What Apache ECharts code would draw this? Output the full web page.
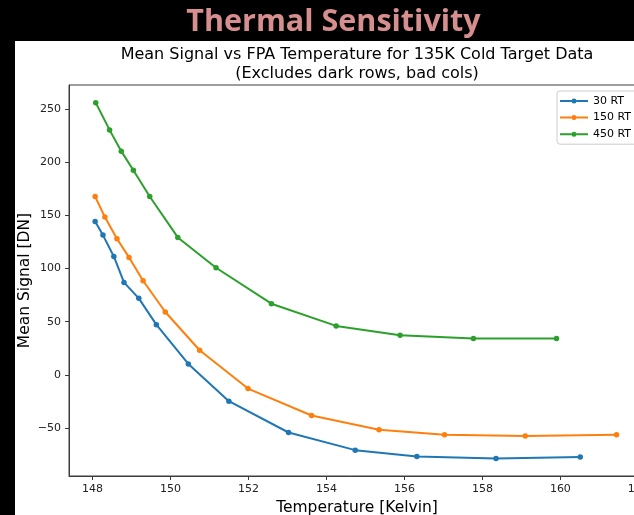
<!DOCTYPE html>
<html>
<head>
<meta charset="utf-8">
<script src="https://cdn.jsdelivr.net/npm/echarts@6/dist/echarts.min.js"></script>
<style>
  html, body { margin: 0; padding: 0; background: #000; }
  #chart { width: 634px; height: 515px; }
</style>
</head>
<body>
<div id="chart"></div>
<script>
// FPA temperature [K] and mean signal [DN] for each row-time setting
const temp30  = [148.07, 148.27, 148.55, 148.81, 149.19, 149.64, 150.46, 151.50, 153.03, 154.74, 156.32, 158.35, 160.51];
const sig30   = [144.2, 131.4, 111.3, 86.9, 71.9, 47.2, 10.3, -24.8, -54.2, -70.8, -76.7, -78.6, -77.3];

const temp150 = [148.07, 148.32, 148.63, 148.94, 149.30, 149.87, 150.75, 151.99, 153.62, 155.35, 157.03, 159.10, 161.44];
const sig150  = [167.7, 148.3, 127.9, 110.4, 88.5, 59.1, 23.1, -12.9, -38.2, -51.6, -56.3, -57.6, -56.3];

const temp450 = [148.085, 148.44, 148.74, 149.05, 149.47, 150.19, 151.17, 152.59, 154.25, 155.89, 157.77, 159.90];
const sig450  = [255.9, 230.3, 210.3, 192.4, 167.7, 129.2, 100.7, 66.9, 46.0, 37.2, 34.1, 34.1];

const seriesNames = ['30 RT', '150 RT', '450 RT'];
const xTicks = [148, 150, 152, 154, 156, 158, 160, 162];
const yTicks = [-50, 0, 50, 100, 150, 200, 250];

const pageTitle = 'Thermal Sensitivity';
const chartTitle = 'Mean Signal vs FPA Temperature for 135K Cold Target Data\n(Excludes dark rows, bad cols)';
const xName = 'Temperature [Kelvin]';
const yName = 'Mean Signal [DN]';

const FONT = '"DejaVu Sans", sans-serif';
const colors = ['#1f77b4', '#ff7f0e', '#2ca02c'];

// legend glyph: short line with a dot in the middle (28 x 5 box)
const legendIcon = 'path://M0,1.5L11.5,1.5L11.5,3.5L0,3.5Z' +
  'M16.5,1.5L28,1.5L28,3.5L16.5,3.5Z' +
  'M11.5,2.5A2.5,2.5,0,1,1,16.5,2.5A2.5,2.5,0,1,1,11.5,2.5Z';

const pairs = (xs, ys) => xs.map((x, i) => [x, ys[i]]);
const seriesData = [pairs(temp30, sig30), pairs(temp150, sig150), pairs(temp450, sig450)];

const chart = echarts.init(document.getElementById('chart'), null, { renderer: 'canvas' });

chart.setOption({
  animation: false,
  backgroundColor: '#000',
  graphic: [
    { type: 'rect', z: -10, silent: true,
      shape: { x: 15, y: 41, width: 619, height: 474 },
      style: { fill: '#ffffff' } },
    { type: 'text', z: 10, x: 333.5, y: 22,
      style: { text: pageTitle, fill: '#d68f8e', font: 'bold 30.5px "Open Sans", "Noto Sans", sans-serif',
               textAlign: 'center', textVerticalAlign: 'middle' } },
    { type: 'text', z: 10, x: 357, y: 64,
      style: { text: chartTitle, fill: '#000', font: '16px ' + FONT, lineHeight: 19,
               textAlign: 'center', textVerticalAlign: 'middle' } },
    // y-axis title, rotated to read bottom-to-top
    { type: 'text', z: 10, x: 25, y: 280.5, rotation: Math.PI / 2,
      style: { text: yName, fill: '#000', font: '15.5px ' + FONT,
               textAlign: 'center', textVerticalAlign: 'middle' } }
  ],
  grid: {
    left: 69, top: 85, width: 576, height: 391,
    outerBoundsMode: 'none', containLabel: false,
    show: true, borderColor: '#3c3c3c', borderWidth: 1, backgroundColor: 'transparent'
  },
  legend: {
    data: seriesNames.map((name, i) => ({ name, icon: legendIcon, itemStyle: { color: colors[i] } })),
    orient: 'vertical',
    left: 557, top: 91,
    itemWidth: 28, itemHeight: 5, itemGap: 4.6,
    padding: [4, 6, 4, 3],
    backgroundColor: '#fff',
    borderColor: '#cccccc', borderWidth: 1, borderRadius: 3,
    textStyle: { fontFamily: FONT, fontSize: 11, lineHeight: 12, color: '#000' }
  },
  xAxis: {
    type: 'value', min: 147.4, max: 162.17,
    name: xName, nameLocation: 'middle', nameGap: 22,
    nameTextStyle: { fontFamily: FONT, fontSize: 15.5, color: '#000' },
    axisLine: { show: true, onZero: false, lineStyle: { color: '#3c3c3c', width: 1 } },
    axisTick: { show: true, length: 4, customValues: xTicks, lineStyle: { color: '#3c3c3c' } },
    axisLabel: { customValues: xTicks, margin: 8, fontFamily: FONT, fontSize: 11, color: '#222' },
    splitLine: { show: false }
  },
  yAxis: {
    type: 'value', min: -95.1, max: 272.5,
    axisLine: { show: true, onZero: false, lineStyle: { color: '#3c3c3c', width: 1 } },
    axisTick: { show: true, length: 4, customValues: yTicks, lineStyle: { color: '#3c3c3c' } },
    axisLabel: { customValues: yTicks, margin: 8, fontFamily: FONT, fontSize: 11, color: '#222',
                 formatter: v => (v < 0 ? '\u2212' + Math.abs(v) : String(v)) },
    splitLine: { show: false }
  },
  series: seriesNames.map((name, i) => ({
    name,
    type: 'line',
    data: seriesData[i],
    color: colors[i],
    symbol: 'circle',
    symbolSize: 5.5,
    showSymbol: true,
    lineStyle: { width: 2, color: colors[i] },
    itemStyle: { color: colors[i] },
    emphasis: { disabled: true },
    clip: true
  }))
});
</script>
</body>
</html>
